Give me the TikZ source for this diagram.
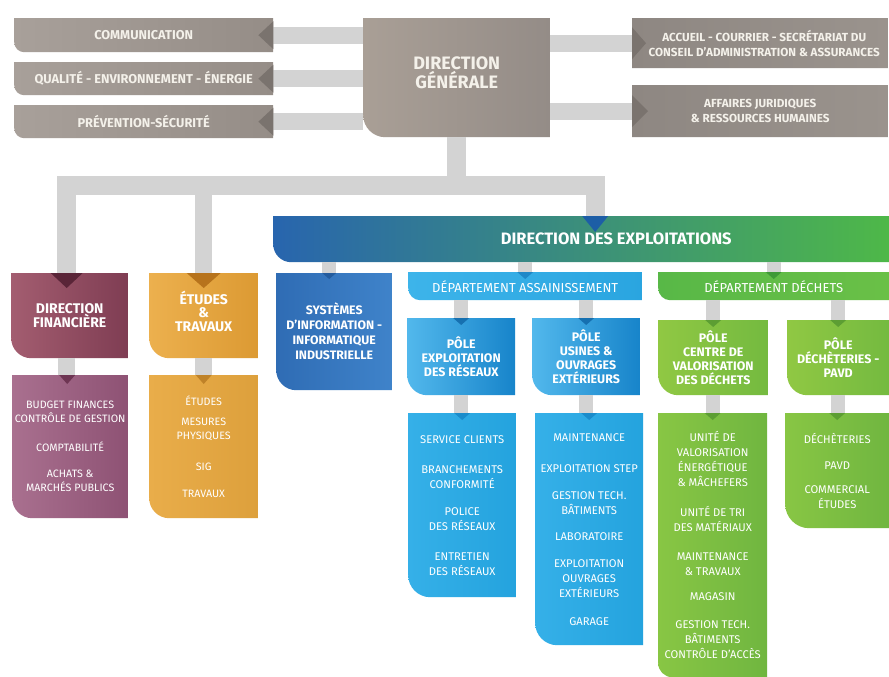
\documentclass[tikz,border=0pt]{standalone}
\usepackage{fontspec}
\setmainfont{Fira Sans}
\definecolor{gline}{HTML}{D3D3D3}
\definecolor{gA}{HTML}{A8A09A}\definecolor{gB}{HTML}{958D87}\definecolor{gN}{HTML}{7A736E}
\definecolor{dgA}{HTML}{A99F96}\definecolor{dgB}{HTML}{948C87}
\definecolor{rA}{HTML}{8E8782}\definecolor{rB}{HTML}{9A938D}
\definecolor{gtext}{HTML}{F4F1EA}
\definecolor{dfA}{HTML}{A35D70}\definecolor{dfB}{HTML}{7F3D53}\definecolor{dfN}{HTML}{5A2538}
\definecolor{dfbA}{HTML}{A9708F}\definecolor{dfbB}{HTML}{8E5274}\definecolor{dfbN}{HTML}{6E3553}
\definecolor{etA}{HTML}{ECB04E}\definecolor{etB}{HTML}{DC9A33}\definecolor{etN}{HTML}{B7731C}
\definecolor{etbA}{HTML}{E9AD4A}\definecolor{etbB}{HTML}{DDA03C}\definecolor{etbN}{HTML}{BF8228}
\definecolor{siA}{HTML}{2F6CB4}\definecolor{siB}{HTML}{3F83CA}\definecolor{siN}{HTML}{245C9E}
\definecolor{dexA}{HTML}{2865AE}\definecolor{dexB}{HTML}{4EB848}\definecolor{dexN}{HTML}{1D5EA6}
\definecolor{daA}{HTML}{3DB4EA}\definecolor{daB}{HTML}{2AA5E0}\definecolor{daN}{HTML}{1E88C8}
\definecolor{peA}{HTML}{52B8EC}\definecolor{peB}{HTML}{1784CA}\definecolor{peN}{HTML}{1670B0}
\definecolor{scA}{HTML}{35B0E8}\definecolor{scB}{HTML}{24A3DE}\definecolor{scN}{HTML}{1A8CCB}
\definecolor{ddA}{HTML}{58B847}\definecolor{ddB}{HTML}{6AC047}\definecolor{ddN}{HTML}{3F9A37}
\definecolor{pgA}{HTML}{90C843}\definecolor{pgB}{HTML}{74BA40}\definecolor{pgN}{HTML}{5C9E33}
\definecolor{ugA}{HTML}{88C644}\definecolor{ugB}{HTML}{70B640}
\newcommand\notchD[4]{\fill[#4] ([xshift=-#2]#1) -- ([xshift=#2]#1) -- ([yshift=-#3]#1) -- cycle;}
\newcommand\notchL[4]{\fill[#4] ([yshift=#2]#1) -- ([yshift=-#2]#1) -- ([xshift=-#3]#1) -- cycle;}
\newcommand\notchR[4]{\fill[#4] ([yshift=#2]#1) -- ([yshift=-#2]#1) -- ([xshift=#3]#1) -- cycle;}
\newcommand\bxrad{17pt}
\newcommand\tightlines{\lineskiplimit=-8pt\relax\lineskip=0pt\relax}
\begin{document}
\begin{tikzpicture}[x=1pt,y=-1pt,
  conn/.style={draw=gline, line width=17pt, line join=miter},
  connbus/.style={draw=gline, line width=19pt, line join=miter},
  connsm/.style={draw=gline, line width=14pt},
  rad/.code={\renewcommand\bxrad{#1}},
  bx/.style 2 args={rectangle, anchor=north west, inner sep=0pt, align=center, text=white, fill=white, rad=17pt,
    path picture={\shade[left color=#1, right color=#2]
      (path picture bounding box.north west) -- (path picture bounding box.north east)
      -- (path picture bounding box.south east) -- ([xshift=\bxrad]path picture bounding box.south west)
      .. controls ([xshift=0.45*\bxrad]path picture bounding box.south west)
      and ([yshift=0.45*\bxrad]path picture bounding box.south west)
      .. ([yshift=\bxrad]path picture bounding box.south west)
      -- cycle;}},
  topf/.style={font=\bfseries\fontsize{12.8}{15}\selectfont, text=gtext},
  rtf/.style={font=\bfseries\fontsize{11.7}{15}\selectfont, text=gtext},
  dgf/.style={font=\bfseries\fontsize{18}{17.5}\selectfont, text=gtext},
  hdf/.style={font=\bfseries\fontsize{14}{13.5}\selectfont\tightlines},
  polef/.style={font=\bfseries\fontsize{12.4}{14}\selectfont},
  sif/.style={font=\bfseries\fontsize{12.3}{15}\selectfont},
  deptf/.style={font=\fontsize{13}{14}\selectfont},
  dexf/.style={font=\bfseries\fontsize{16.5}{18}\selectfont, text=white},
  lstf/.style={font=\fontsize{11.2}{15}\selectfont},
  lstg/.style={font=\fontsize{10.7}{14}\selectfont},
]
\useasboundingbox (0,0) rectangle (889,677);
\fill[white] (0,0) rectangle (889,677);

% ---------- boxes ----------
\node[bx={gA}{gB}, topf, minimum width=259pt, minimum height=34pt, rad=10pt] (com) at (14,18) {COMMUNICATION};
\node[bx={gA}{gB}, topf, minimum width=259pt, minimum height=33pt, rad=10pt] (qual) at (14,62) {QUALITÉ - ENVIRONNEMENT - ÉNERGIE};
\node[bx={gA}{gB}, topf, minimum width=259pt, minimum height=33pt, rad=10pt] (prev) at (14,105) {PRÉVENTION-SÉCURITÉ};
\node[bx={dgA}{dgB}, minimum width=187pt, minimum height=119pt, rad=22pt] (dg) at (363,18) {};
\node[dgf, align=center] (dgt) at ([yshift=5pt]dg.center) {DIRECTION\\GÉNÉRALE};
\node[bx={rA}{rB}, rtf, minimum width=256pt, minimum height=50pt, rad=0pt] (acc) at (632,18) {\hspace*{8pt}ACCUEIL - COURRIER - SECRÉTARIAT DU\\\hspace*{8pt}CONSEIL D'ADMINISTRATION \& ASSURANCES};
\node[bx={rA}{rB}, rtf, minimum width=256pt, minimum height=52pt, rad=0pt] (aff) at (632,85) {AFFAIRES JURIDIQUES\\\& RESSOURCES HUMAINES};

\coordinate (busy) at (0,185);

\node[bx={dexA}{dexB}, minimum width=616pt, minimum height=46pt, rad=18pt] (dex) at (273,216) {};
\node[dexf] (dext) at ([xshift=35pt]dex.center) {DIRECTION DES EXPLOITATIONS};
\coordinate (dexin) at ([xshift=14pt]dex.north);

\node[bx={dfA}{dfB}, hdf, minimum width=117pt, minimum height=85pt, rad=20pt] (df) at (11,273) {DIRECTION\\FINANCIÈRE};
\node[bx={etA}{etB}, hdf, minimum width=109pt, minimum height=85pt, rad=20pt] (et) at (149,273) {ÉTUDES\\\&\\TRAVAUX\\[-4pt]};
\node[bx={siA}{siB}, sif, minimum width=116pt, minimum height=117pt, rad=20pt] (si) at (276,273) {SYSTÈMES\\D'INFORMATION -\\INFORMATIQUE\\INDUSTRIELLE};
\node[bx={daA}{daB}, deptf, minimum width=234pt, minimum height=28pt, rad=12pt] (da) at (408,272) {DÉPARTEMENT ASSAINISSEMENT};
\node[bx={ddA}{ddB}, deptf, minimum width=231pt, minimum height=28pt, rad=12pt] (dd) at (658,272) {DÉPARTEMENT DÉCHETS};

\node[bx={peA}{peB}, polef, minimum width=108pt, minimum height=77pt, rad=20pt] (pe) at (407,318) {PÔLE\\EXPLOITATION\\DES RÉSEAUX};
\node[bx={peA}{peB}, polef, minimum width=108pt, minimum height=77pt, rad=20pt] (pu) at (532,318) {PÔLE\\USINES \&\\OUVRAGES\\EXTÉRIEURS};
\node[bx={pgA}{pgB}, polef, minimum width=110pt, minimum height=75pt, rad=20pt] (pc) at (658,320) {PÔLE\\CENTRE DE\\VALORISATION\\DES DÉCHETS};
\node[bx={pgA}{pgB}, polef, minimum width=102pt, minimum height=75pt, rad=20pt] (pd) at (787,320) {PÔLE\\DÉCHÈTERIES -\\PAVD};

\node[bx={dfbA}{dfbB}, lstg, minimum width=116pt, minimum height=143pt, rad=20pt] (dfb) at (12,375)
  {BUDGET FINANCES\\CONTRÔLE DE GESTION\\[15pt]COMPTABILITÉ\\[12pt]ACHATS \&\\MARCHÉS PUBLICS};
\node[bx={etbA}{etbB}, lstg, minimum width=109pt, minimum height=143pt, rad=20pt] (etb) at (149,375)
  {ÉTUDES\\[6pt]MESURES\\PHYSIQUES\\[17pt]SIG\\[13pt]TRAVAUX};
\node[bx={scA}{scB}, lstf, minimum width=108pt, minimum height=184pt, rad=22pt] (sc) at (408,413)
  {SERVICE CLIENTS\\[15pt]BRANCHEMENTS\\CONFORMITÉ\\[12pt]POLICE\\DES RÉSEAUX\\[15pt]ENTRETIEN\\DES RÉSEAUX};
\node[bx={scA}{scB}, lstf, minimum width=108pt, minimum height=232pt, rad=22pt] (mt) at (535,413)
  {MAINTENANCE\\[16pt]EXPLOITATION STEP\\[12pt]GESTION TECH.\\BÂTIMENTS\\[11pt]LABORATOIRE\\[12pt]EXPLOITATION\\OUVRAGES\\EXTÉRIEURS\\[13pt]GARAGE};
\node[bx={ugA}{ugB}, lstf, minimum width=109pt, minimum height=264pt, rad=14pt] (un) at (658,413)
  {UNITÉ DE\\VALORISATION\\ÉNERGÉTIQUE\\\& MÂCHEFERS\\[15pt]UNITÉ DE TRI\\DES MATÉRIAUX\\[14pt]MAINTENANCE\\\& TRAVAUX\\[10pt]MAGASIN\\[13pt]GESTION TECH.\\BÂTIMENTS\\CONTRÔLE D'ACCÈS};
\node[bx={ugA}{ugB}, lstf, minimum width=104pt, minimum height=115pt, rad=24pt] (dc) at (785,413)
  {DÉCHÈTERIES\\[11pt]PAVD\\[9pt]COMMERCIAL\\ÉTUDES};

% ---------- anchor points ----------
\coordinate (dfn) at ([xshift=-3pt]df.north);
\coordinate (dfs) at ([xshift=-3pt]df.south);
\coordinate (dfbn) at ([xshift=-3pt]dfb.north);
\coordinate (sin) at ([xshift=-5pt]si.north);

% ---------- connectors ----------
\draw[conn] (com.east) -- (com.east -| dg.west);
\draw[conn] (qual.east) -- (qual.east -| dg.west);
\draw[conn] (prev.east) -- (prev.east -| dg.west);
\draw[conn] (acc.west -| dg.east) -- (acc.west);
\draw[conn] (aff.west -| dg.east) -- (aff.west);
\draw[connbus] (dg.south) -- (dg.south |- busy);
\draw[connbus] (dfn) -- (dfn |- busy) -- (dexin |- busy) -- (dexin);
\draw[conn] (et.north) -- (et.north |- busy);
\draw[connsm] (dex.south -| sin) -- (sin);
\draw[connsm] (dex.south -| da.north) -- (da.north);
\draw[connsm] (dex.south -| dd.north) -- (dd.north);
\draw[connsm] (da.south -| pe.north) -- (pe.north);
\draw[connsm] (da.south -| pu.north) -- (pu.north);
\draw[connsm] (dd.south -| pc.north) -- (pc.north);
\draw[connsm] (dd.south -| pd.north) -- (pd.north);
\draw[connsm] (pe.south) -- (pe.south |- sc.north);
\draw[connsm] (pu.south) -- (pu.south |- mt.north);
\draw[connsm] (pc.south) -- (pc.south |- un.north);
\draw[connsm] (pd.south) -- (pd.south |- dc.north);
\draw[conn] (dfs) -- (dfs |- dfbn);
\draw[conn] (et.south) -- (et.south |- etb.north);

% ---------- notches ----------
\notchL{com.east}{14pt}{15pt}{gN}
\notchL{qual.east}{14pt}{15pt}{gN}
\notchL{prev.east}{14pt}{15pt}{gN}
\notchR{acc.west}{16pt}{14pt}{gN}
\notchR{aff.west}{16pt}{16pt}{gN}
\notchD{dfn}{16pt}{15pt}{dfN}
\notchD{et.north}{17pt}{15pt}{etN}
\notchD{dexin}{13pt}{16pt}{dexN}
\notchD{sin}{7pt}{6pt}{siN}
\notchD{da.north}{8pt}{7pt}{daN}
\notchD{dd.north}{8pt}{7pt}{ddN}
\notchD{pe.north}{8pt}{7pt}{peN}
\notchD{pu.north}{8pt}{7pt}{peN}
\notchD{pc.north}{8pt}{7pt}{pgN}
\notchD{pd.north}{8pt}{7pt}{pgN}
\notchD{dfbn}{8pt}{9pt}{dfbN}
\notchD{etb.north}{8pt}{9pt}{etbN}
\notchD{sc.north}{8pt}{7pt}{scN}
\notchD{mt.north}{8pt}{7pt}{scN}
\notchD{un.north}{8pt}{7pt}{pgN}
\notchD{dc.north}{8pt}{7pt}{pgN}
\end{tikzpicture}
\end{document}
